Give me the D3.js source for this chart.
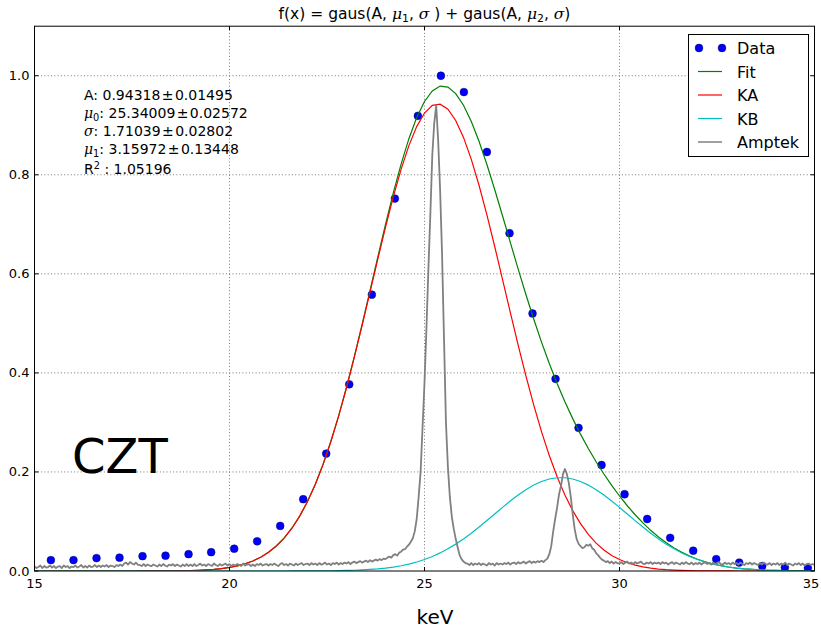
<!DOCTYPE html>
<html>
<head>
<meta charset="utf-8">
<script src="https://cdn.jsdelivr.net/npm/d3@7"></script>
<style>
  body { margin: 0; background: #fff; }
  svg { display: block; }
  text { font-family: "DejaVu Sans", sans-serif; fill: #000; }
</style>
</head>
<body>
<svg id="chart" width="821" height="629"></svg>
<script>
// CZT detector response: normalised counts at bin centres (keV)
const dataKeV = [15.42, 16.00, 16.59, 17.18, 17.77, 18.36, 18.95, 19.53, 20.12, 20.71,
                 21.30, 21.89, 22.48, 23.07, 23.65, 24.24, 24.83, 25.42, 26.01, 26.60,
                 27.18, 27.77, 28.36, 28.95, 29.54, 30.13, 30.71, 31.30, 31.89, 32.48,
                 33.07, 33.66, 34.24, 34.83];
const dataCounts = [0.022, 0.022, 0.026, 0.027, 0.030, 0.031, 0.034, 0.038, 0.045, 0.060,
                    0.091, 0.145, 0.237, 0.377, 0.558, 0.752, 0.919, 1.000, 0.967, 0.846,
                    0.682, 0.520, 0.388, 0.289, 0.214, 0.155, 0.105, 0.067, 0.041, 0.024,
                    0.017, 0.010, 0.007, 0.006];

// Amptek reference spectrum, 0.05 keV channels starting at 15 keV
const amptekStart = 15, amptekStep = 0.05;
const amptekCounts = [
  0.009,0.006,0.008,0.011,0.006,0.010,0.007,0.008,0.011,0.007,0.010,0.006,0.009,0.010,0.006,0.011,0.008,0.010,0.006,0.009,
  0.008,0.011,0.007,0.009,0.012,0.007,0.010,0.007,0.011,0.008,0.009,0.012,0.008,0.011,0.008,0.011,0.009,0.012,0.008,0.011,
  0.010,0.008,0.012,0.010,0.013,0.010,0.015,0.017,0.013,0.018,0.015,0.013,0.017,0.013,0.012,0.010,0.014,0.010,0.013,0.011,
  0.010,0.013,0.011,0.009,0.013,0.010,0.014,0.011,0.009,0.013,0.011,0.014,0.010,0.013,0.011,0.009,0.013,0.010,0.014,0.010,
  0.013,0.010,0.014,0.010,0.012,0.015,0.011,0.013,0.010,0.014,0.012,0.010,0.015,0.012,0.010,0.014,0.011,0.013,0.015,0.011,
  0.014,0.010,0.013,0.011,0.014,0.012,0.010,0.015,0.011,0.013,0.014,0.010,0.013,0.010,0.014,0.012,0.015,0.011,0.013,0.014,
  0.011,0.014,0.012,0.015,0.012,0.010,0.014,0.016,0.012,0.014,0.011,0.015,0.013,0.011,0.015,0.012,0.014,0.016,0.012,0.014,
  0.015,0.012,0.016,0.013,0.015,0.012,0.016,0.013,0.014,0.017,0.013,0.015,0.012,0.016,0.014,0.017,0.013,0.016,0.014,0.017,
  0.015,0.018,0.014,0.017,0.019,0.016,0.018,0.020,0.017,0.019,0.021,0.018,0.022,0.019,0.021,0.023,0.021,0.024,0.022,0.025,
  0.024,0.027,0.029,0.027,0.032,0.034,0.031,0.037,0.039,0.043,0.044,0.049,0.053,0.059,0.066,0.080,0.105,0.150,0.200,0.290,
  0.380,0.490,0.610,0.720,0.840,0.905,0.940,0.870,0.770,0.640,0.470,0.300,0.210,0.150,0.110,0.085,0.065,0.048,0.032,0.024,
  0.019,0.016,0.015,0.012,0.016,0.012,0.015,0.013,0.016,0.012,0.015,0.013,0.011,0.016,0.013,0.015,0.011,0.016,0.013,0.015,
  0.013,0.016,0.014,0.017,0.013,0.016,0.017,0.014,0.018,0.015,0.017,0.019,0.015,0.018,0.020,0.016,0.019,0.017,0.020,0.018,
  0.021,0.018,0.022,0.025,0.034,0.050,0.080,0.105,0.128,0.155,0.172,0.195,0.206,0.196,0.178,0.150,0.115,0.085,0.065,0.055,
  0.050,0.046,0.048,0.053,0.051,0.054,0.046,0.043,0.036,0.032,0.027,0.023,0.021,0.018,0.020,0.016,0.019,0.015,0.018,0.016,
  0.015,0.018,0.014,0.017,0.019,0.015,0.017,0.014,0.018,0.015,0.017,0.019,0.015,0.014,0.017,0.015,0.018,0.014,0.017,0.015,
  0.017,0.014,0.018,0.015,0.017,0.013,0.016,0.018,0.014,0.017,0.015,0.013,0.017,0.014,0.018,0.015,0.014,0.017,0.013,0.016,
  0.014,0.017,0.013,0.016,0.018,0.014,0.016,0.013,0.017,0.014,0.016,0.018,0.014,0.013,0.017,0.014,0.016,0.013,0.017,0.014,
  0.016,0.013,0.017,0.014,0.012,0.016,0.014,0.017,0.013,0.016,0.014,0.012,0.016,0.013,0.017,0.014,0.013,0.016,0.012,0.015,
  0.013,0.016,0.012,0.015,0.013,0.017,0.012,0.015,0.013,0.011,0.015,0.013,0.016,0.012,0.015,0.011,0.014,0.015,0.012,0.014,
  0.012
];

// Fit results: two gaussians sharing A and sigma, KB offset by mu1 and scaled by kbRatio
const paramLabels = [["A"], ["μ", "0"], ["σ"], ["μ", "1"]];
const paramValues = ["0.94318", "25.34009", "1.71039", "3.15972"];
const paramErrors = ["0.01495", "0.02572", "0.02802", "0.13448"];
const rSquared = "1.05196";
const fitA = 0.94318, fitMu0 = 25.34009, fitSigma = 1.71039, fitMu1 = 3.15972;
const kbRatio = 0.2;

const xTicks = [15, 20, 25, 30, 35];
const yTicks = [0, 0.2, 0.4, 0.6, 0.8, 1.0];
const legendLabels = ["Data", "Fit", "KA", "KB", "Amptek"];
const colors = { Data: "#0000ff", Fit: "#008000", KA: "#ff0000", KB: "#00bfbf", Amptek: "#808080" };

const svg = d3.select("#chart");
const plot = { left: 34.5, right: 814.5, top: 26.2, bottom: 571 };
const x = d3.scaleLinear().domain([15, 35]).range([plot.left, plot.right]);
const y = d3.scaleLinear().domain([0, 1.1]).range([plot.bottom, plot.top]);

svg.append("defs").append("clipPath").attr("id", "plotClip")
  .append("rect").attr("x", plot.left).attr("y", plot.top)
  .attr("width", plot.right - plot.left).attr("height", plot.bottom - plot.top);

// Dotted grid
const grid = svg.append("g").attr("stroke", "#555").attr("stroke-width", 0.8)
  .attr("stroke-dasharray", "1,2.3");
grid.selectAll(".gx").data(xTicks.slice(1, -1)).join("line")
  .attr("x1", d => x(d)).attr("x2", d => x(d)).attr("y1", plot.top).attr("y2", plot.bottom);
grid.selectAll(".gy").data(yTicks.slice(1)).join("line")
  .attr("y1", d => y(d)).attr("y2", d => y(d)).attr("x1", plot.left).attr("x2", plot.right);

const layer = svg.append("g").attr("clip-path", "url(#plotClip)");

// Data points
layer.selectAll("circle.data").data(dataKeV).join("circle")
  .attr("cx", d => x(d)).attr("cy", (d, i) => y(dataCounts[i])).attr("r", 3.9)
  .attr("fill", colors.Data).attr("stroke", "#00006a").attr("stroke-width", 0.5);

// Fit model curves from the fitted parameters
const gaus = (e, amp, mu, s) => amp * Math.exp(-((e - mu) ** 2) / (2 * s * s));
const ka = e => gaus(e, fitA, fitMu0, fitSigma);
const kb = e => gaus(e, kbRatio * fitA, fitMu0 + fitMu1, fitSigma);
const sampleE = d3.range(0, 101).map(i => 15 + i * 0.2);
const line = d3.line().x(d => x(d[0])).y(d => y(d[1]));
const curves = [
  ["Fit", sampleE.map(e => [e, ka(e) + kb(e)])],
  ["KA", sampleE.map(e => [e, ka(e)])],
  ["KB", sampleE.map(e => [e, kb(e)])]
];
curves.forEach(([name, pts]) => {
  layer.append("path").attr("d", line(pts)).attr("fill", "none")
    .attr("stroke", colors[name]).attr("stroke-width", 1.2);
});

// Amptek spectrum
layer.append("path")
  .attr("d", line(amptekCounts.map((v, i) => [amptekStart + i * amptekStep, v])))
  .attr("fill", "none").attr("stroke", colors.Amptek).attr("stroke-width", 1.8)
  .attr("stroke-linejoin", "round");

// Frame and inward ticks on all sides
svg.append("rect").attr("x", plot.left).attr("y", plot.top)
  .attr("width", plot.right - plot.left).attr("height", plot.bottom - plot.top)
  .attr("fill", "none").attr("stroke", "#000").attr("stroke-width", 1);
const ticks = svg.append("g").attr("stroke", "#000").attr("stroke-width", 1);
xTicks.forEach(t => {
  ticks.append("line").attr("x1", x(t)).attr("x2", x(t)).attr("y1", plot.bottom).attr("y2", plot.bottom - 4);
  ticks.append("line").attr("x1", x(t)).attr("x2", x(t)).attr("y1", plot.top).attr("y2", plot.top + 4);
});
yTicks.forEach(t => {
  ticks.append("line").attr("y1", y(t)).attr("y2", y(t)).attr("x1", plot.left).attr("x2", plot.left + 4);
  ticks.append("line").attr("y1", y(t)).attr("y2", y(t)).attr("x1", plot.right).attr("x2", plot.right - 4);
});

svg.append("g").selectAll("text").data(xTicks).join("text")
  .attr("x", d => Math.min(x(d), 811)).attr("y", plot.bottom + 17).attr("text-anchor", "middle")
  .attr("font-size", 13).text(d => d);
svg.append("g").selectAll("text").data(yTicks).join("text")
  .attr("x", plot.left - 5).attr("y", d => y(d) + 4.5).attr("text-anchor", "end")
  .attr("font-size", 13).text(d => d.toFixed(1));

// Rich text helper: segments of {t, it, sub, sup}
function rich(sel, segs, size) {
  let shift = 0;
  segs.forEach(s => {
    const ts = sel.append("tspan").text(s.t);
    let target = 0;
    if (s.sub) target = size * 0.2;
    if (s.sup) target = -size * 0.35;
    ts.attr("dy", target - shift);
    shift = target;
    if (s.sub || s.sup) ts.attr("font-size", size * 0.7);
    if (s.it) ts.attr("font-family", "DejaVu Serif").attr("font-style", "italic");
  });
}

// Title
const title = svg.append("text").attr("x", (plot.left + plot.right) / 2).attr("y", 19)
  .attr("text-anchor", "middle").attr("font-size", 15.5);
rich(title, [
  { t: "f(x) = gaus(A, " }, { t: "μ", it: 1 }, { t: "1", sub: 1 }, { t: ", " }, { t: "σ", it: 1 },
  { t: " ) + gaus(A, " }, { t: "μ", it: 1 }, { t: "2", sub: 1 }, { t: ", " }, { t: "σ", it: 1 }, { t: ")" }
], 15.5);

// Axis label
svg.append("text").attr("x", 435).attr("y", 624).attr("text-anchor", "middle")
  .attr("font-size", 20).text("keV");

// Fit parameter box
const annBaselines = [100, 117.7, 136, 153.7, 174];
const annSize = 14;
paramLabels.forEach((lab, i) => {
  const t = svg.append("text").attr("x", 84).attr("y", annBaselines[i]).attr("font-size", annSize);
  const segs = lab.length > 1 ? [{ t: lab[0], it: 1 }, { t: lab[1], sub: 1 }]
                              : [{ t: lab[0], it: lab[0] === "σ" ? 1 : 0 }];
  segs.push({ t: ": " + paramValues[i] + "\u200a±\u200a" + paramErrors[i] });
  rich(t, segs, annSize);
});
rich(svg.append("text").attr("x", 84).attr("y", annBaselines[4]).attr("font-size", annSize),
  [{ t: "R" }, { t: "2", sup: 1 }, { t: " : " + rSquared }], annSize);

// Detector label
svg.append("text").attr("x", 72).attr("y", 473).attr("font-size", 48)
  .attr("font-family", "'Liberation Sans', Arial, sans-serif").text("CZT");

// Legend
const lg = svg.append("g");
lg.append("rect").attr("x", 688.5).attr("y", 34.5).attr("width", 120).attr("height", 122)
  .attr("fill", "#fff").attr("stroke", "#000").attr("stroke-width", 1);
legendLabels.forEach((name, i) => {
  const cy = 48 + i * 23.5;
  if (name === "Data") {
    [699, 722].forEach(cx => lg.append("circle").attr("cx", cx).attr("cy", cy).attr("r", 3.9)
      .attr("fill", colors.Data).attr("stroke", "#00006a").attr("stroke-width", 0.5));
  } else {
    lg.append("line").attr("x1", 698).attr("x2", 722).attr("y1", cy).attr("y2", cy)
      .attr("stroke", colors[name]).attr("stroke-width", name === "Amptek" ? 1.5 : 1.2);
  }
  lg.append("text").attr("x", 737).attr("y", cy + 6).attr("font-size", 16).text(name);
});
</script>
</body>
</html>
